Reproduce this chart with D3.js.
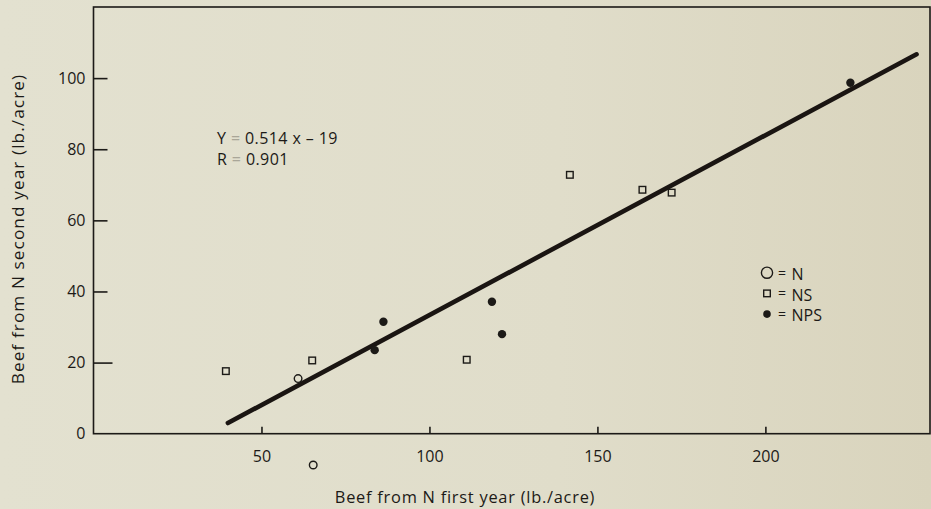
<!DOCTYPE html>
<html>
<head>
<meta charset="utf-8">
<script src="https://cdn.jsdelivr.net/npm/d3@7"></script>
<style>
  html, body { margin: 0; padding: 0; background: #e1decb; }
  svg { display: block; }
  text { font-family: "Open Sans", Lato, sans-serif; fill: #1c1a17; }
</style>
</head>
<body>
<script>
// values
var xDomain = [0, 249];
var yDomain = [0, 120];
var xTicks = [50, 100, 150, 200];
var yTicks = [0, 20, 40, 60, 80, 100];

var nX = [60.9, 65.4];
var nY = [15.5, -8.8];
var nsX = [39.4, 65.1, 111.1, 141.8, 163.4, 172.1];
var nsY = [17.6, 20.6, 20.8, 72.8, 68.6, 67.8];
var npsX = [83.7, 86.3, 118.6, 121.6, 225.3];
var npsY = [23.5, 31.5, 37.1, 28.0, 98.7];

// regression line as drawn  (Y = 0.514 x - 19)
var fitX = [40, 245];
var fitY = [3.0, 106.7];

var legendNames = ["N", "NS", "NPS"];

(function() {
  "use strict";

  var W = 931, H = 509;
  var left = 93.5, right = 930, top = 7, bottom = 433.7;
  var ink = "#1c1a17";

  var svg = d3.select("body").append("svg")
      .attr("width", W)
      .attr("height", H);

  // paper background, a bit darker to the right
  var grad = svg.append("defs").append("linearGradient")
      .attr("id", "paper").attr("x1", 0).attr("x2", 1).attr("y1", 0).attr("y2", 0);
  grad.append("stop").attr("offset", 0).attr("stop-color", "#e3e1d0");
  grad.append("stop").attr("offset", 0.6).attr("stop-color", "#e0ddca");
  grad.append("stop").attr("offset", 1).attr("stop-color", "#d9d4bd");
  svg.append("rect").attr("width", W).attr("height", H).attr("fill", "url(#paper)");

  var x = d3.scaleLinear().domain(xDomain).range([left, right]);
  var y = d3.scaleLinear().domain(yDomain).range([bottom, top]);

  // frame
  svg.append("rect")
      .attr("x", x(xDomain[0])).attr("y", y(yDomain[1]))
      .attr("width", x(xDomain[1]) - x(xDomain[0]))
      .attr("height", y(yDomain[0]) - y(yDomain[1]))
      .attr("fill", "none").attr("stroke", ink).attr("stroke-width", 1.6);

  // y axis, ticks pointing inward
  var yAxis = svg.append("g")
      .attr("transform", "translate(" + left + ",0)")
      .call(d3.axisLeft(y).tickValues(yTicks).tickSizeOuter(0).tickPadding(8));
  yAxis.select(".domain").remove();
  yAxis.selectAll(".tick line")
      .attr("x1", 0)
      .attr("x2", function(d) { return d === 0 ? 0 : (d === 20 ? 19 : 14); })
      .attr("stroke", ink).attr("stroke-width", 1.6);
  yAxis.selectAll(".tick text")
      .attr("x", -8)
      .style("font-size", "16px").style("font-family", "'Open Sans', sans-serif").attr("fill", ink);

  // x axis, ticks pointing inward
  var xAxis = svg.append("g")
      .attr("transform", "translate(0," + bottom + ")")
      .call(d3.axisBottom(x).tickValues(xTicks).tickSizeOuter(0));
  xAxis.select(".domain").remove();
  xAxis.selectAll(".tick line")
      .attr("y1", 0).attr("y2", -7)
      .attr("stroke", ink).attr("stroke-width", 1.6);
  xAxis.selectAll(".tick text")
      .attr("y", 17).attr("dy", "0.71em")
      .style("font-size", "16px").style("font-family", "'Open Sans', sans-serif").attr("fill", ink);

  // axis titles
  svg.append("text")
      .attr("x", 465).attr("y", 503)
      .attr("text-anchor", "middle")
      .style("font-size", "16.4px")
      .style("letter-spacing", "0.75px")
      .text("Beef from N first year (lb./acre)");

  svg.append("text")
      .attr("transform", "translate(24,229) rotate(-90)")
      .attr("text-anchor", "middle")
      .style("font-size", "17.2px")
      .style("letter-spacing", "1.1px")
      .text("Beef from N second year (lb./acre)");

  // regression line
  var line = d3.line().x(function(d) { return x(d[0]); }).y(function(d) { return y(d[1]); });
  svg.append("path")
      .datum(d3.zip(fitX, fitY))
      .attr("d", line)
      .attr("fill", "none")
      .attr("stroke", "#1a1512")
      .attr("stroke-width", 4.6)
      .attr("stroke-linecap", "round");

  // N : open circles
  svg.selectAll(".ptN")
      .data(d3.zip(nX, nY))
      .enter().append("circle")
      .attr("class", "ptN")
      .attr("cx", function(d) { return x(d[0]); })
      .attr("cy", function(d) { return y(d[1]); })
      .attr("r", 3.8)
      .attr("fill", "none").attr("stroke", ink).attr("stroke-width", 1.4);

  // NS : open squares
  svg.selectAll(".ptNS")
      .data(d3.zip(nsX, nsY))
      .enter().append("rect")
      .attr("class", "ptNS")
      .attr("x", function(d) { return x(d[0]) - 3.3; })
      .attr("y", function(d) { return y(d[1]) - 3.3; })
      .attr("width", 6.6).attr("height", 6.6)
      .attr("fill", "none").attr("stroke", ink).attr("stroke-width", 1.4);

  // NPS : filled dots
  svg.selectAll(".ptNPS")
      .data(d3.zip(npsX, npsY))
      .enter().append("circle")
      .attr("class", "ptNPS")
      .attr("cx", function(d) { return x(d[0]); })
      .attr("cy", function(d) { return y(d[1]); })
      .attr("r", 4.2)
      .attr("fill", ink);

  // equation
  var eq = svg.append("text").attr("x", 217).attr("y", 143.5)
      .style("font-size", "16px").style("letter-spacing", "0.4px");
  eq.append("tspan").text("Y ");
  eq.append("tspan").attr("fill", "#a9a698").text("=");
  eq.append("tspan").text(" 0.514 x \u2013 19");
  var rr = svg.append("text").attr("x", 217).attr("y", 165)
      .style("font-size", "16px").style("letter-spacing", "0.4px");
  rr.append("tspan").text("R ");
  rr.append("tspan").attr("fill", "#a9a698").text("=");
  rr.append("tspan").text(" 0.901");

  // legend
  var lg = svg.append("g").attr("transform", "translate(767,272.7)");
  var rows = lg.selectAll("g").data(legendNames).enter().append("g")
      .attr("transform", function(d, i) { return "translate(0," + (i * 20.7) + ")"; });
  rows.each(function(d, i) {
    var g = d3.select(this);
    if (i === 0) {
      g.append("circle").attr("r", 5.6).attr("fill", "none")
        .attr("stroke", ink).attr("stroke-width", 1.4);
    } else if (i === 1) {
      g.append("rect").attr("x", -3.3).attr("y", -3.3).attr("width", 6.6).attr("height", 6.6)
        .attr("fill", "none").attr("stroke", ink).attr("stroke-width", 1.4);
    } else {
      g.append("circle").attr("r", 3.8).attr("fill", ink);
    }
    g.append("text").attr("x", 11).attr("y", 5).attr("fill", "#a9a698")
      .style("font-size", "14px").text("=");
    g.append("text").attr("x", 24.5).attr("y", 7.3)
      .style("font-size", "16px").text(d);
  });
})();
</script>
</body>
</html>
